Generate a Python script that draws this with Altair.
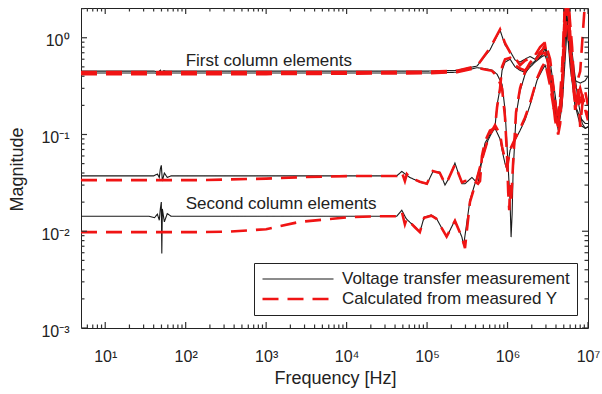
import altair as alt
import pandas as pd

MEAS = "Voltage transfer measurement"
CALC = "Calculated from measured Y"
KINDS = [MEAS, CALC]

# ---- First column element 1 ----
F_A1_MEAS = [5, 40, 46, 48.5, 50, 53, 60, 1e3, 1e4, 1e5,
             2.35e5, 4.17e5, 6.05e5, 8.07e5, 9.31e5,
             1.08e6, 1.24e6, 1.43e6, 1.65e6, 1.9e6,
             2.2e6, 2.54e6, 2.93e6, 3.38e6, 3.91e6,
             4.26e6, 4.77e6, 5.36e6, 6.0e6, 6.92e6,
             8.0e6, 9.23e6, 1e7]
V_A1_MEAS = [0.452, 0.452, 0.445, 0.462, 0.44, 0.455, 0.452, 0.452, 0.452, 0.452,
             0.46, 0.51, 0.75, 1.2, 0.84,
             0.72, 0.59, 0.56, 0.6, 0.64,
             0.6, 0.72, 0.82, 0.56, 0.255,
             0.141, 0.36, 1.9, 0.8, 0.36,
             0.34, 0.36, 0.4]
F_A1_CALC = [5, 1e3, 1e4, 1e5, 2.35e5,
             4.17e5, 6.05e5, 8.07e5, 9.31e5, 1.08e6,
             1.24e6, 1.43e6, 1.65e6, 1.9e6, 2.2e6,
             2.54e6, 2.93e6, 3.38e6, 3.91e6, 4.26e6,
             4.77e6, 5.2e6, 5.36e6, 6.0e6, 6.92e6,
             8.0e6, 8.47e6, 9.23e6, 1e7]
V_A1_CALC = [0.442, 0.442, 0.442, 0.445, 0.455,
             0.51, 0.78, 1.22, 0.88, 0.7,
             0.62, 0.52, 0.58, 0.62, 0.66,
             0.8, 0.9, 0.6, 0.22, 0.13,
             0.5, 2.5, 2.5, 0.7, 0.3,
             0.45, 0.9, 2.5, 2.5]

# ---- First column element 2 ----
F_A2_MEAS = [5, 40, 46, 48.5, 50, 53, 60, 1e3, 1e4, 1e5,
             2.35e5, 4.17e5, 5.25e5, 6.41e5, 7.4e5,
             8.55e5, 9.31e5, 1.02e6, 1.076e6, 1.107e6,
             1.14e6, 1.172e6, 1.276e6, 1.43e6, 1.65e6,
             1.9e6, 2.33e6, 2.69e6, 2.93e6, 3.38e6,
             3.91e6, 4.26e6, 4.77e6, 5.2e6, 5.67e6,
             6.35e6, 7.55e6, 8.47e6, 9.23e6, 1e7]
V_A2_MEAS = [0.432, 0.432, 0.43, 0.438, 0.426, 0.434, 0.432, 0.432, 0.432, 0.432,
             0.44, 0.49, 0.48, 0.463, 0.42,
             0.33, 0.18, 0.045, 0.02, 0.0087,
             0.015, 0.04, 0.159, 0.28, 0.42,
             0.52, 0.6, 0.66, 0.78, 0.45,
             0.17, 0.111, 0.2, 0.6, 1.9,
             0.7, 0.22, 0.13, 0.116, 0.12]
F_A2_CALC = [5, 1e3, 1e4, 1e5, 2.35e5,
             4.17e5, 5.25e5, 6.41e5, 7.4e5, 8.55e5,
             9.31e5, 9.86e5, 1.02e6, 1.05e6, 1.076e6,
             1.107e6, 1.172e6, 1.276e6, 1.43e6, 1.65e6,
             1.9e6, 2.33e6, 2.69e6, 2.93e6, 3.38e6,
             3.91e6, 4.26e6, 4.51e6, 4.77e6, 5.2e6,
             5.67e6, 6.35e6, 6.92e6, 7.55e6, 8.0e6,
             8.47e6, 9.23e6, 1e7]
V_A2_CALC = [0.421, 0.421, 0.425, 0.43, 0.44,
             0.49, 0.47, 0.455, 0.4, 0.3,
             0.15, 0.06, 0.025, 0.0165, 0.03,
             0.02, 0.05, 0.17, 0.3, 0.45,
             0.55, 0.66, 0.74, 0.84, 0.4,
             0.14, 0.1, 0.13, 0.3, 1.0,
             2.5, 0.8, 0.2, 0.28, 0.2,
             0.26, 0.18, 0.14]

# ---- Second column element 1 ----
F_B1_MEAS = [5, 40, 44.5, 47, 48.4, 49.8, 51.3, 54.3, 59, 66,
             42000, 48500, 61000, 81300, 99500,
             118000, 144000, 167000, 182000, 222000,
             271000, 296000, 361000, 430000, 481000,
             525000, 605000, 699000, 740000, 807000,
             855000, 931000, 1.076e6, 1.24e6, 1.43e6,
             1.65e6, 2.2e6, 2.69e6, 2.93e6, 3.38e6,
             3.91e6, 4.26e6, 4.77e6, 5.36e6, 6.0e6,
             6.92e6, 8.0e6, 9.23e6, 1e7]
V_B1_MEAS = [0.0374, 0.0374, 0.039, 0.036, 0.044, 0.048, 0.033, 0.04, 0.036, 0.0374,
             0.0374, 0.0415, 0.036, 0.0322, 0.0307,
             0.0412, 0.041, 0.03, 0.034, 0.0506,
             0.031, 0.031, 0.036, 0.031, 0.055,
             0.0815, 0.1, 0.12, 0.2, 0.3,
             0.46, 0.56, 0.6, 0.5, 0.46,
             0.44, 0.56, 0.64, 0.66, 0.46,
             0.2, 0.13, 0.3, 1.5, 0.6,
             0.2, 0.125, 0.116, 0.12]
F_B1_CALC = [5, 150, 1000, 3000, 11000,
             42000, 48500, 53000, 56000, 61000,
             81300, 99500, 118000, 144000, 167000,
             182000, 222000, 271000, 296000, 361000,
             430000, 455000, 481000, 525000, 605000,
             699000, 740000, 807000, 855000, 931000,
             1.076e6, 1.24e6, 1.43e6, 1.65e6, 2.2e6,
             2.54e6, 2.93e6, 3.38e6, 3.91e6, 4.26e6,
             4.77e6, 5.2e6, 5.67e6, 6.35e6, 6.92e6,
             7.55e6, 8.0e6, 8.47e6, 9.23e6, 1e7]
V_B1_CALC = [0.0338, 0.0338, 0.035, 0.0363, 0.0372,
             0.0372, 0.041, 0.033, 0.039, 0.036,
             0.0325, 0.031, 0.042, 0.04, 0.031,
             0.034, 0.049, 0.032, 0.033, 0.034,
             0.031, 0.033, 0.06, 0.085, 0.11,
             0.116, 0.19, 0.3, 0.5, 0.6,
             0.62, 0.52, 0.48, 0.46, 0.58,
             0.68, 0.7, 0.4, 0.16, 0.12,
             0.35, 2.5, 2.5, 0.5, 0.18,
             0.25, 0.3, 0.25, 0.2, 0.15]

# ---- Second column element 2 ----
F_B2_MEAS = [5, 35, 41, 44.5, 47, 48.4, 49.8, 50.5, 51.3, 54.3, 59, 66,
             42000, 48500, 55000, 61000, 70500,
             81300, 92000, 113000, 130000, 175000,
             222000, 271000, 285000, 341000, 417000,
             481000, 572000, 641000, 699000, 807000,
             855000, 931000, 986000, 1.076e6, 1.24e6,
             1.43e6, 1.65e6, 1.9e6, 2.33e6, 2.69e6,
             2.93e6, 3.38e6, 3.91e6, 4.26e6, 4.77e6,
             5.36e6, 6.0e6, 6.92e6, 8.0e6, 9.23e6, 1e7]
V_B2_MEAS = [0.0143, 0.0143, 0.0138, 0.015, 0.013, 0.017, 0.02, 0.0059, 0.017, 0.0125, 0.0152, 0.0143,
             0.0143, 0.0165, 0.0135, 0.0124, 0.0112,
             0.0098, 0.014, 0.0147, 0.0137, 0.0087,
             0.013, 0.0087, 0.0072, 0.021, 0.0363,
             0.054, 0.0875, 0.105, 0.116, 0.09,
             0.069, 0.05, 0.043, 0.069, 0.0875,
             0.11, 0.141, 0.2, 0.365, 0.46,
             0.52, 0.36, 0.18, 0.125, 0.227,
             1.7, 0.5, 0.2, 0.15, 0.13, 0.13]
F_B2_CALC = [5, 150, 350, 1000, 2600, 11000, 26000,
             42000, 48500, 53000, 56000, 61000,
             70500, 81300, 92000, 113000, 130000,
             175000, 222000, 271000, 296000, 341000,
             417000, 481000, 572000, 641000, 699000,
             807000, 855000, 931000, 986000, 1.076e6,
             1.24e6, 1.43e6, 1.65e6, 1.9e6, 2.33e6,
             2.69e6, 2.93e6, 3.38e6, 3.91e6, 4.26e6,
             4.77e6, 5.2e6, 5.67e6, 6.35e6, 6.92e6,
             7.55e6, 8.0e6, 8.47e6, 9.23e6, 1e7]
V_B2_CALC = [0.0098, 0.0098, 0.0099, 0.0105, 0.0125, 0.014, 0.0143,
             0.0143, 0.016, 0.0118, 0.0135, 0.0124,
             0.011, 0.0098, 0.0138, 0.0145, 0.0135,
             0.0088, 0.0128, 0.0087, 0.0067, 0.02,
             0.035, 0.055, 0.09, 0.11, 0.125,
             0.1, 0.075, 0.055, 0.045, 0.07,
             0.09, 0.115, 0.15, 0.21, 0.38,
             0.5, 0.56, 0.32, 0.15, 0.13,
             0.25, 2.5, 2.5, 0.4, 0.22,
             0.3, 0.12, 0.2, 0.28, 0.2]

# annotation texts and anchors
ANN_TEXT = ["First column elements", "Second column elements"]
ANN_FREQ = [100, 100]
ANN_MAG = [0.574, 0.019]

# axis tick values (decades are labelled)
X_MAJOR = [10, 100, 1e3, 1e4, 1e5, 1e6, 1e7]
Y_MAJOR = [0.001, 0.01, 0.1, 1]
X_MINOR = [m * 10 ** k for k in range(0, 7) for m in range(2, 10) if m * 10 ** k >= 5]
Y_MINOR = [m * 10.0 ** k for k in range(-3, 1) for m in range(2, 10) if m * 10.0 ** k <= 2.03]

SERIES = [
    ("A1", MEAS, F_A1_MEAS, V_A1_MEAS), ("A1", CALC, F_A1_CALC, V_A1_CALC),
    ("A2", MEAS, F_A2_MEAS, V_A2_MEAS), ("A2", CALC, F_A2_CALC, V_A2_CALC),
    ("B1", MEAS, F_B1_MEAS, V_B1_MEAS), ("B1", CALC, F_B1_CALC, V_B1_CALC),
    ("B2", MEAS, F_B2_MEAS, V_B2_MEAS), ("B2", CALC, F_B2_CALC, V_B2_CALC),
]
rows = []
for cid, kind, fs, vs in SERIES:
    assert len(fs) == len(vs), (cid, kind, len(fs), len(vs))
    for f, v in zip(fs, vs):
        rows.append({"freq": f, "mag": v, "curve": cid, "kind": kind})
df = pd.DataFrame(rows)
ann = pd.DataFrame({"freq": ANN_FREQ, "mag": ANN_MAG, "text": ANN_TEXT})

# tick tables: tick length is doubled because half of each tick is clipped at the frame
MAJOR_LEN, MINOR_LEN = 12, 7
xt = pd.DataFrame({"value": X_MAJOR + X_MINOR,
                   "len": [MAJOR_LEN] * len(X_MAJOR) + [MINOR_LEN] * len(X_MINOR)})
yt = pd.DataFrame({"value": Y_MAJOR + Y_MINOR,
                   "len": [MAJOR_LEN] * len(Y_MAJOR) + [MINOR_LEN] * len(Y_MINOR)})

W, H = 507, 320
FONT = "Liberation Sans"
INK = "#222222"
TICK_INK = "#333333"
X_DOMAIN = [5, 1e7]
Y_DOMAIN = [0.001, 2.03]
xscale = alt.Scale(type="log", domain=X_DOMAIN, nice=False)
yscale = alt.Scale(type="log", domain=Y_DOMAIN, nice=False)

SUP = ("['\u207b\u00b3','\u207b\u00b2','\u207b\u00b9','\u2070','\u00b9','\u00b2',"
       "'\u00b3','\u2074','\u2075','\u2076','\u2077'][round(log(datum.value)/LN10)+3]")
LABEL_EXPR = "'10' + " + SUP

color = alt.Color("kind:N", title=None,
                  scale=alt.Scale(domain=KINDS, range=["#1a1a1a", "#f01414"]))
dash = alt.StrokeDash("kind:N", title=None,
                      scale=alt.Scale(domain=KINDS, range=[[1, 0], [16, 9]]))
swidth = alt.StrokeWidth("kind:N", title=None,
                         scale=alt.Scale(domain=KINDS, range=[1.1, 2.6]))

x_main = alt.X("freq:Q", scale=xscale, axis=alt.Axis(
    values=X_MAJOR, labelExpr=LABEL_EXPR, ticks=False, tickSize=0, domain=False, grid=False,
    labelFlush=False, labelOverlap=False,
    labelFont=FONT, labelFontSize=16, labelColor=INK, labelPadding=20, labelBaseline="top",
    title="Frequency [Hz]", titleFont=FONT, titleFontSize=18, titleFontWeight="normal",
    titleColor=INK, titleX=254, titleY=50, titleBaseline="middle"))
y_main = alt.Y("mag:Q", scale=yscale, axis=alt.Axis(
    values=Y_MAJOR, labelExpr=LABEL_EXPR, ticks=False, tickSize=0, domain=False, grid=False,
    labelFlush=False, labelOverlap=False,
    labelFont=FONT, labelFontSize=16, labelColor=INK, labelPadding=12, labelBaseline="middle",
    labelOffset=3,
    title="Magnitude", titleFont=FONT, titleFontSize=18, titleFontWeight="normal",
    titleColor=INK, titleX=-64, titleY=161, titleBaseline="middle"))
x_plain = alt.X("freq:Q", scale=xscale, axis=None)
y_plain = alt.Y("mag:Q", scale=yscale, axis=None)

black = alt.Chart(df).transform_filter(alt.datum.kind == MEAS).mark_line(clip=True).encode(
    x=x_main, y=y_main, color=color, strokeDash=dash, strokeWidth=swidth, detail="curve:N")
red = alt.Chart(df).transform_filter(alt.datum.kind == CALC).mark_line(clip=True).encode(
    x=x_plain, y=y_plain, color=color, strokeDash=dash, strokeWidth=swidth, detail="curve:N")

texts = alt.Chart(ann).mark_text(align="left", baseline="middle", font=FONT,
                                 fontSize=17, color=INK).encode(
    x=x_plain, y=y_plain, text="text:N")


def x_edge_ticks(edge_value):
    return alt.Chart(xt).mark_tick(orient="vertical", thickness=1.2, color=TICK_INK,
                                   opacity=1, clip=True).encode(
        x=alt.X("value:Q", scale=xscale, axis=None),
        y=alt.YDatum(edge_value, scale=yscale, axis=None),
        size=alt.Size("len:Q", scale=None, legend=None))


def y_edge_ticks(edge_value):
    return alt.Chart(yt).mark_tick(orient="horizontal", thickness=1.2, color=TICK_INK,
                                   opacity=1, clip=True).encode(
        y=alt.Y("value:Q", scale=yscale, axis=None),
        x=alt.XDatum(edge_value, scale=xscale, axis=None),
        size=alt.Size("len:Q", scale=None, legend=None))


chart = alt.layer(
    black, red, texts,
    x_edge_ticks(Y_DOMAIN[0]), x_edge_ticks(Y_DOMAIN[1]),
    y_edge_ticks(X_DOMAIN[0]), y_edge_ticks(X_DOMAIN[1]),
).resolve_axis(x="independent", y="independent").properties(
    width=W, height=H,
    autosize=alt.AutoSizeParams(type="none"),
    padding={"left": 81, "top": 8, "right": 14, "bottom": 66},
    background="white",
).configure_view(stroke=INK, strokeWidth=1).configure_axis(grid=False).configure_legend(
    orient="none", legendX=173, legendY=255, padding=7, strokeColor=INK, fillColor="white",
    labelFont=FONT, labelFontSize=17, labelColor=INK, symbolSize=5041, symbolType="stroke",
    clipHeight=18, rowPadding=2, labelOffset=7, labelLimit=400, cornerRadius=0,
)

chart.save("out.html", embed_options={"renderer": "svg", "actions": False})
